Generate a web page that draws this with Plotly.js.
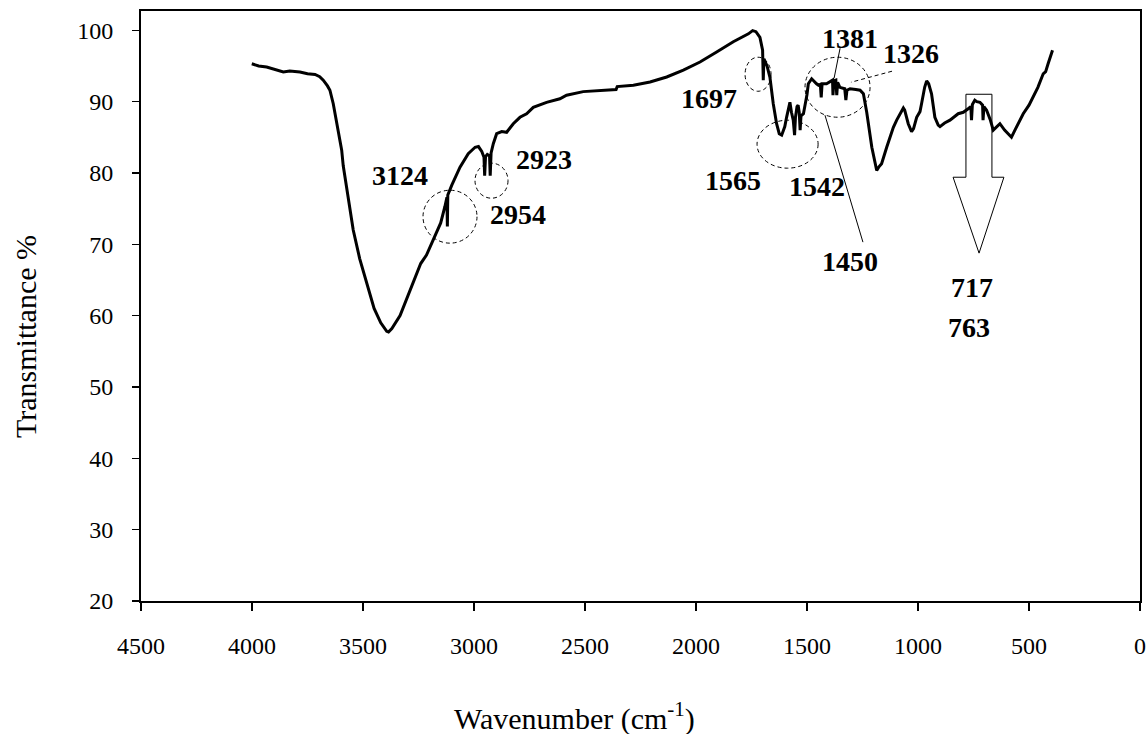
<!DOCTYPE html>
<html>
<head>
<meta charset="utf-8">
<script src="https://cdn.plot.ly/plotly-3.0.1.min.js"></script>
<style>
  html, body { margin: 0; padding: 0; background: #fff; }
  #chart { width: 1147px; height: 734px; }
</style>
</head>
<body>
<div id="chart"></div>
<script>
// FTIR spectrum
const wavenumber = [
  4001, 3970, 3934, 3900, 3859, 3830, 3784, 3750, 3716, 3695, 3679, 3660, 3649, 3634, 3619,
  3596, 3589, 3570, 3544, 3515, 3484, 3450, 3420, 3393, 3385, 3370, 3333, 3300, 3274, 3240,
  3214, 3176, 3150, 3131, 3122, 3120, 3118, 3100, 3063, 3026, 2995, 2980, 2965, 2955, 2952,
  2948, 2940, 2930, 2927, 2923, 2913, 2898, 2875, 2853, 2823, 2793, 2763, 2733, 2673, 2613,
  2583, 2508, 2420, 2387, 2360, 2355, 2282, 2207, 2132, 2057, 1982, 1907, 1832, 1764, 1745,
  1730, 1712, 1700, 1697, 1694, 1680, 1667, 1652, 1637, 1625, 1614, 1600, 1592, 1577, 1570,
  1562, 1556, 1552, 1545, 1540, 1535, 1531, 1527, 1516, 1500, 1494, 1479, 1465, 1457, 1448,
  1440, 1436, 1432, 1412, 1395, 1385, 1383, 1379, 1370, 1366, 1362, 1352, 1330, 1325, 1320,
  1306, 1280, 1261, 1246, 1231, 1208, 1195, 1186, 1175, 1164, 1141, 1111, 1096, 1081, 1066,
  1060, 1044, 1029, 1020, 1006, 991, 984, 970, 961, 952, 939, 924, 909, 901, 880,
  856, 819, 796, 774, 762, 759, 755, 744, 735, 721, 709, 707, 703, 691, 675,
  661, 650, 631, 610, 579, 560, 526, 500, 481, 460, 436, 425, 414, 405, 398, 394
];
const transmittance = [
  95.3, 95.0, 94.85, 94.5, 94.15, 94.3, 94.15, 93.9, 93.8, 93.5, 93.0, 92.2, 91.6, 89.7, 86.9,
  83.2, 81.0, 77.0, 72.0, 68.0, 64.5, 61.0, 59.0, 57.8, 57.7, 58.2, 60.0, 62.5, 64.6, 67.3,
  68.5, 71.2, 73.0, 75.3, 76.6, 72.5, 76.9, 78.3, 80.8, 82.7, 83.6, 83.7, 83.0, 82.2, 79.6,
  82.3, 82.6, 82.4, 79.6, 82.8, 84.1, 85.5, 85.8, 85.7, 86.9, 87.8, 88.3, 89.2, 89.9, 90.4,
  90.9, 91.4, 91.6, 91.7, 91.7, 92.1, 92.3, 92.75, 93.45, 94.4, 95.55, 96.95, 98.4, 99.5, 99.95,
  99.8, 99.0, 97.2, 93.0, 96.0, 95.0, 93.4, 89.7, 86.9, 85.5, 85.3, 86.5, 87.8, 89.9, 88.5,
  87.4, 85.3, 87.8, 89.3, 89.5, 88.5, 86.0, 88.0, 88.3, 91.0, 92.5, 93.2, 92.7, 92.5, 92.3,
  92.4, 90.6, 92.5, 92.5, 92.8, 93.0, 90.9, 92.9, 93.0, 90.9, 92.7, 92.0, 91.8, 90.2, 91.6,
  91.8, 91.7, 91.6, 91.1, 88.5, 83.6, 81.5, 80.35, 80.9, 81.3, 83.6, 86.4, 87.4, 88.3, 89.1,
  88.8, 86.9, 85.8, 86.2, 87.8, 88.6, 89.7, 92.0, 92.9, 92.5, 91.1, 87.8, 86.7, 86.5, 87.0,
  87.4, 88.3, 88.5, 89.0, 89.3, 87.4, 89.6, 90.2, 90.0, 89.9, 89.5, 87.4, 89.3, 88.8, 87.5,
  86.0, 86.3, 86.9, 86.0, 85.0, 86.2, 88.3, 89.5, 90.6, 92.0, 93.9, 94.2, 95.3, 96.2, 96.95, 97.2
];

const xTickValues = [4500, 4000, 3500, 3000, 2500, 2000, 1500, 1000, 500, 0];
const yTickValues = [20, 30, 40, 50, 60, 70, 80, 90, 100];
const peakLabels = ['3124', '2954', '2923', '1697', '1565', '1542', '1381', '1326', '1450', '717', '763'];
const xTitle = 'Wavenumber (cm<sup>-1</sup>)';
const yTitle = 'Transmittance %';

const serif = 'Liberation Serif, Times New Roman, serif';

// label placements (wavenumber, transmittance) for the peak labels
const labelPos = [
  [3333, 79.7], [2802, 74.2], [2685, 81.9], [1941, 90.5], [1833, 79.0], [1455, 78.1],
  [1306, 98.9], [1031, 96.8], [1306, 67.6], [757, 64.0], [770, 58.4]
];

const annotations = peakLabels.map((t, i) => ({
  x: labelPos[i][0], y: labelPos[i][1], xref: 'x', yref: 'y',
  text: '<b>' + t + '</b>', showarrow: false,
  xanchor: 'center', yanchor: 'middle',
  font: { family: serif, size: 28, color: '#000' }
}));

annotations.push({
  xref: 'paper', yref: 'paper', x: 0.4344, y: -0.1966,
  text: xTitle, showarrow: false, xanchor: 'center', yanchor: 'middle',
  font: { family: serif, size: 30, color: '#000' }
});
annotations.push({
  xref: 'paper', yref: 'paper', x: -0.1151, y: 0.4475,
  text: yTitle, showarrow: false, xanchor: 'center', yanchor: 'middle', textangle: -90,
  font: { family: serif, size: 30, color: '#000' }
});

const dashStyle = { color: '#000', width: 1, dash: '4px,3px' };
const thin = { color: '#000', width: 1 };

const shapes = [
  { type: 'circle', xref: 'x', yref: 'y', x0: 3229.7, x1: 2986.5, y0: 77.58, y1: 70.16, line: dashStyle },
  { type: 'circle', xref: 'x', yref: 'y', x0: 2995.5, x1: 2846.8, y0: 81.37, y1: 76.46, line: dashStyle },
  { type: 'circle', xref: 'x', yref: 'y', x0: 1779, x1: 1662, y0: 96.22, y1: 91.45, line: dashStyle },
  { type: 'circle', xref: 'x', yref: 'y', x0: 1725, x1: 1450, y0: 87.39, y1: 80.67, line: dashStyle },
  { type: 'circle', xref: 'x', yref: 'y', x0: 1509, x1: 1216, y0: 96.22, y1: 87.81, line: dashStyle },
  { type: 'line', xref: 'x', yref: 'y', x0: 1351, x1: 1378, y0: 97.48, y1: 93.27, line: thin },
  { type: 'line', xref: 'x', yref: 'y', x0: 1117, x1: 1302, y0: 94.26, y1: 92.71, line: dashStyle },
  { type: 'line', xref: 'x', yref: 'y', x0: 1419, x1: 1248, y0: 88.09, y1: 70.3, line: thin },
  { type: 'path', xref: 'x', yref: 'y',
    path: 'M784,91.03 L667,91.03 L667,79.4 L613,79.4 L725,68.76 L842,79.4 L784,79.4 Z',
    line: thin, fillcolor: 'rgba(0,0,0,0)' }
];

const trace = {
  x: wavenumber, y: transmittance, type: 'scatter', mode: 'lines',
  line: { color: '#000', width: 3 }, hoverinfo: 'skip', showlegend: false
};

const layout = {
  width: 1147, height: 734,
  margin: { l: 141, r: 7, t: 11, b: 133 },
  paper_bgcolor: '#fff', plot_bgcolor: '#fff',
  showlegend: false,
  xaxis: {
    range: [4500, 0], tickvals: xTickValues, ticktext: xTickValues.map(String),
    ticks: 'outside', ticklen: 8, tickwidth: 1.5, tickcolor: '#000',
    showline: true, linecolor: '#000', linewidth: 2, mirror: true,
    showgrid: false, zeroline: false, ticklabelstandoff: 14,
    tickfont: { family: serif, size: 24, color: '#000' }
  },
  yaxis: {
    range: [20, 102.7], tickvals: yTickValues, ticktext: yTickValues.map(String),
    ticks: 'outside', ticklen: 7, tickwidth: 1.5, tickcolor: '#000',
    showline: true, linecolor: '#000', linewidth: 2, mirror: true,
    showgrid: false, zeroline: false, ticklabelstandoff: 14,
    tickfont: { family: serif, size: 24, color: '#000' }
  },
  annotations: annotations,
  shapes: shapes
};

Plotly.newPlot('chart', [trace], layout, { staticPlot: true, displayModeBar: false });
</script>
</body>
</html>
